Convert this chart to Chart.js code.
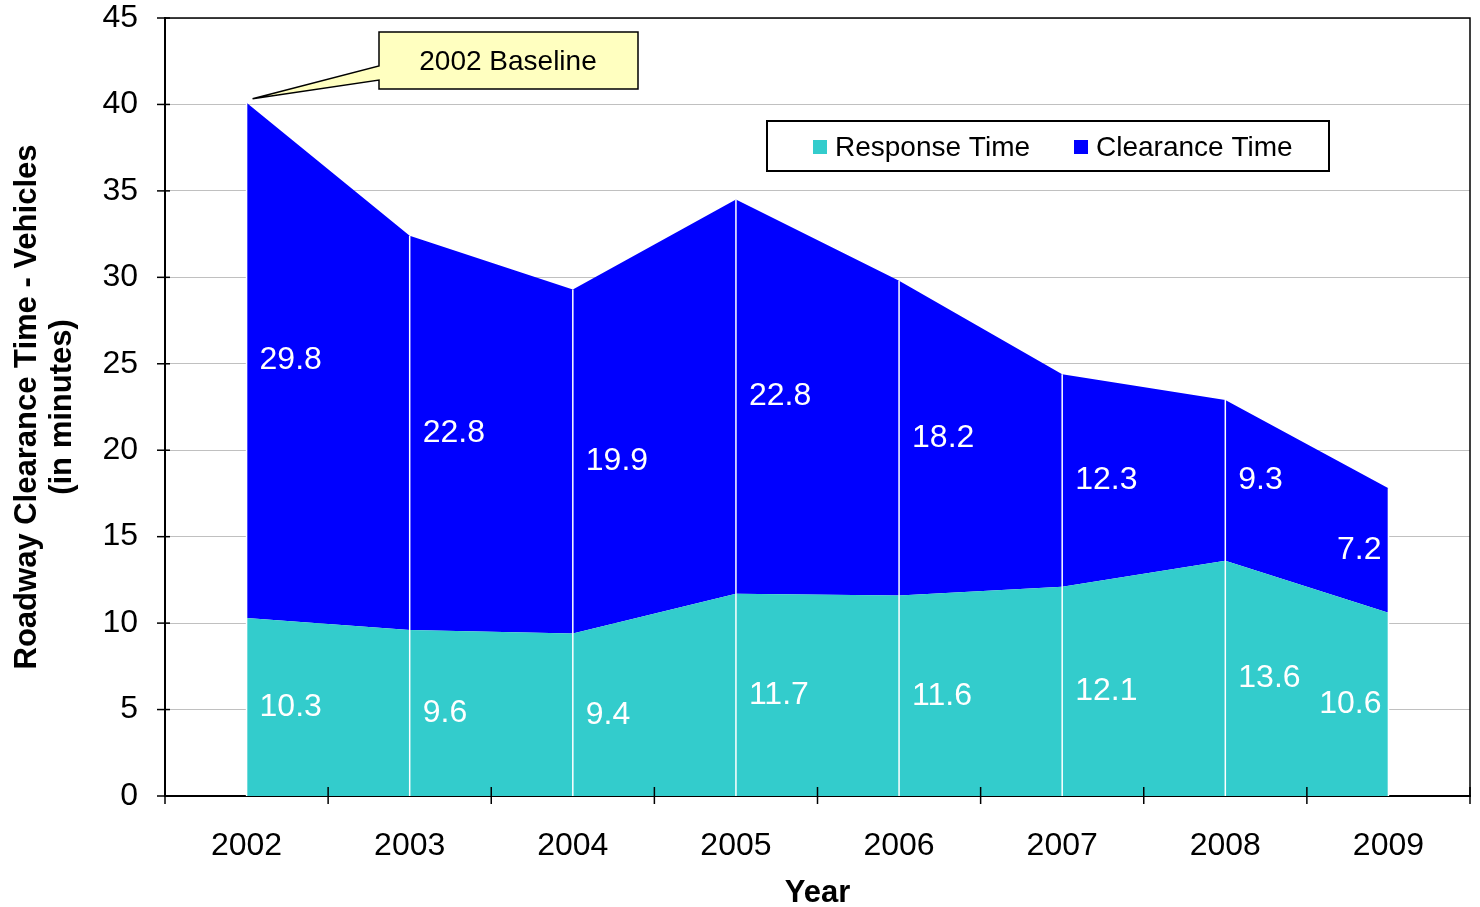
<!DOCTYPE html>
<html>
<head>
<meta charset="utf-8">
<script src="https://cdn.jsdelivr.net/npm/chart.js@4/dist/chart.umd.min.js"></script>
<style>
  html, body { margin: 0; padding: 0; background: #fff; }
  #wrap { width: 1480px; height: 907px; }
</style>
</head>
<body>
<div id="wrap"><canvas id="chart" width="1480" height="907"></canvas></div>
<script>
const years = ['2002', '2003', '2004', '2005', '2006', '2007', '2008', '2009'];
const responseTime = [10.3, 9.6, 9.4, 11.7, 11.6, 12.1, 13.6, 10.6];
const clearanceTime = [29.8, 22.8, 19.9, 22.8, 18.2, 12.3, 9.3, 7.2];
const yMin = 0, yMax = 45, yStep = 5;
const calloutText = '2002 Baseline';

const FONT = '"Liberation Sans", Arial, sans-serif';
const TEAL = '#33CCCC';
const BLUE = '#0000FF';

// white drop lines, value labels, plot frame, tick marks
const decorations = {
  id: 'decorations',
  afterDatasetsDraw(chart) {
    const ctx = chart.ctx;
    const y = chart.scales.y;
    const low = chart.getDatasetMeta(0);
    const high = chart.getDatasetMeta(1);
    const base = y.getPixelForValue(0);

    ctx.save();
    ctx.strokeStyle = '#ffffff';
    ctx.lineWidth = 1.5;
    high.data.forEach((pt, i) => {
      ctx.beginPath();
      ctx.moveTo(pt.x, base);
      ctx.lineTo(pt.x, pt.y);
      ctx.stroke();
    });

    ctx.fillStyle = '#ffffff';
    ctx.font = '32px ' + FONT;
    ctx.textBaseline = 'middle';
    const last = years.length - 1;
    years.forEach((yr, i) => {
      const x = low.data[i].x;
      const isLast = i === last;
      ctx.textAlign = isLast ? 'right' : 'left';
      const tx = isLast ? x - 7 : x + 13;
      const r = responseTime[i], c = clearanceTime[i];
      ctx.fillText(r.toFixed(1), tx, y.getPixelForValue(r / 2));
      ctx.fillText(c.toFixed(1), tx, y.getPixelForValue(r + c / 2));
    });
    ctx.restore();
  },
  afterDraw(chart) {
    const ctx = chart.ctx;
    const a = chart.chartArea;
    const x = chart.scales.x;
    const y = chart.scales.y;

    ctx.save();
    ctx.strokeStyle = '#000';
    ctx.lineWidth = 1.5;
    // top and right frame
    ctx.beginPath();
    ctx.moveTo(a.left, a.top);
    ctx.lineTo(a.right, a.top);
    ctx.lineTo(a.right, a.bottom);
    ctx.stroke();

    // y tick marks crossing the axis
    y.ticks.forEach(t => {
      const py = y.getPixelForValue(t.value);
      ctx.beginPath();
      ctx.moveTo(a.left - 8, py);
      ctx.lineTo(a.left + 5, py);
      ctx.stroke();
    });
    // x tick marks between categories
    const step = x.getPixelForTick(1) - x.getPixelForTick(0);
    for (let i = 0; i <= years.length; i++) {
      const px = i < years.length ? x.getPixelForTick(i) - step / 2 : a.right;
      ctx.beginPath();
      ctx.moveTo(px, a.bottom - 9);
      ctx.lineTo(px, a.bottom + 8);
      ctx.stroke();
    }

    // legend box
    ctx.fillStyle = '#fff';
    ctx.fillRect(767, 121, 562, 50);
    ctx.lineWidth = 2;
    ctx.strokeRect(767, 121, 562, 50);
    ctx.font = '28px ' + FONT;
    ctx.textAlign = 'left';
    ctx.textBaseline = 'middle';
    const legendX = [813, 1074];
    chart.data.datasets.forEach((ds, i) => {
      ctx.fillStyle = ds.backgroundColor;
      ctx.fillRect(legendX[i], 140, 14, 14);
      ctx.fillStyle = '#000';
      ctx.fillText(ds.label, legendX[i] + 22, 148);
    });

    // callout pointing at the 2002 total
    const top0 = chart.getDatasetMeta(1).data[0];
    const tipX = top0.x + 6, tipY = top0.y - 4;
    ctx.beginPath();
    ctx.moveTo(379, 32);
    ctx.lineTo(638, 32);
    ctx.lineTo(638, 89);
    ctx.lineTo(379, 89);
    ctx.lineTo(379, 80);
    ctx.lineTo(tipX, tipY);
    ctx.lineTo(379, 66);
    ctx.closePath();
    ctx.fillStyle = '#FFFFC0';
    ctx.fill();
    ctx.lineWidth = 1.5;
    ctx.strokeStyle = '#000';
    ctx.stroke();
    ctx.fillStyle = '#000';
    ctx.font = '28px ' + FONT;
    ctx.textAlign = 'center';
    ctx.fillText(calloutText, 508, 62);
    ctx.restore();
  }
};

new Chart(document.getElementById('chart'), {
  type: 'line',
  data: {
    labels: years,
    datasets: [
      {
        label: 'Response Time',
        data: responseTime,
        backgroundColor: TEAL,
        borderColor: TEAL,
        borderWidth: 0,
        pointRadius: 0,
        fill: 'origin',
        tension: 0
      },
      {
        label: 'Clearance Time',
        data: clearanceTime,
        backgroundColor: BLUE,
        borderColor: BLUE,
        borderWidth: 0,
        pointRadius: 0,
        fill: '-1',
        tension: 0
      }
    ]
  },
  options: {
    responsive: false,
    devicePixelRatio: 1,
    animation: false,
    layout: { padding: { top: 18, right: 10, bottom: 0, left: 0 } },
    plugins: {
      legend: { display: false },
      tooltip: { enabled: false }
    },
    scales: {
      x: {
        type: 'category',
        offset: true,
        grid: { display: false, drawTicks: false },
        border: { color: '#000', width: 2 },
        ticks: {
          color: '#000',
          font: { family: FONT, size: 32 },
          padding: 31,
          maxRotation: 0
        },
        title: {
          display: true,
          text: 'Year',
          color: '#000',
          font: { family: FONT, size: 31, weight: 'bold', lineHeight: 0.9 },
          padding: 0
        },
        afterFit(scale) {
          scale.height = 111;
          scale.paddingLeft = 0;
          scale.paddingRight = 0;
        }
      },
      y: {
        stacked: true,
        min: yMin,
        max: yMax,
        grid: { color: '#C0C0C0', lineWidth: 1, drawTicks: false },
        border: { color: '#000', width: 2 },
        ticks: {
          stepSize: yStep,
          color: '#000',
          font: { family: FONT, size: 32 },
          padding: 27
        },
        title: {
          display: true,
          text: ['Roadway Clearance Time - Vehicles', '(in minutes)'],
          color: '#000',
          font: { family: FONT, size: 31, weight: 'bold', lineHeight: 1.16 },
          padding: { top: 9, bottom: 0 }
        },
        afterFit(scale) {
          scale.width = 165;
          scale.paddingTop = 0;
          scale.paddingBottom = 0;
        }
      }
    }
  },
  plugins: [decorations]
});
</script>
</body>
</html>
